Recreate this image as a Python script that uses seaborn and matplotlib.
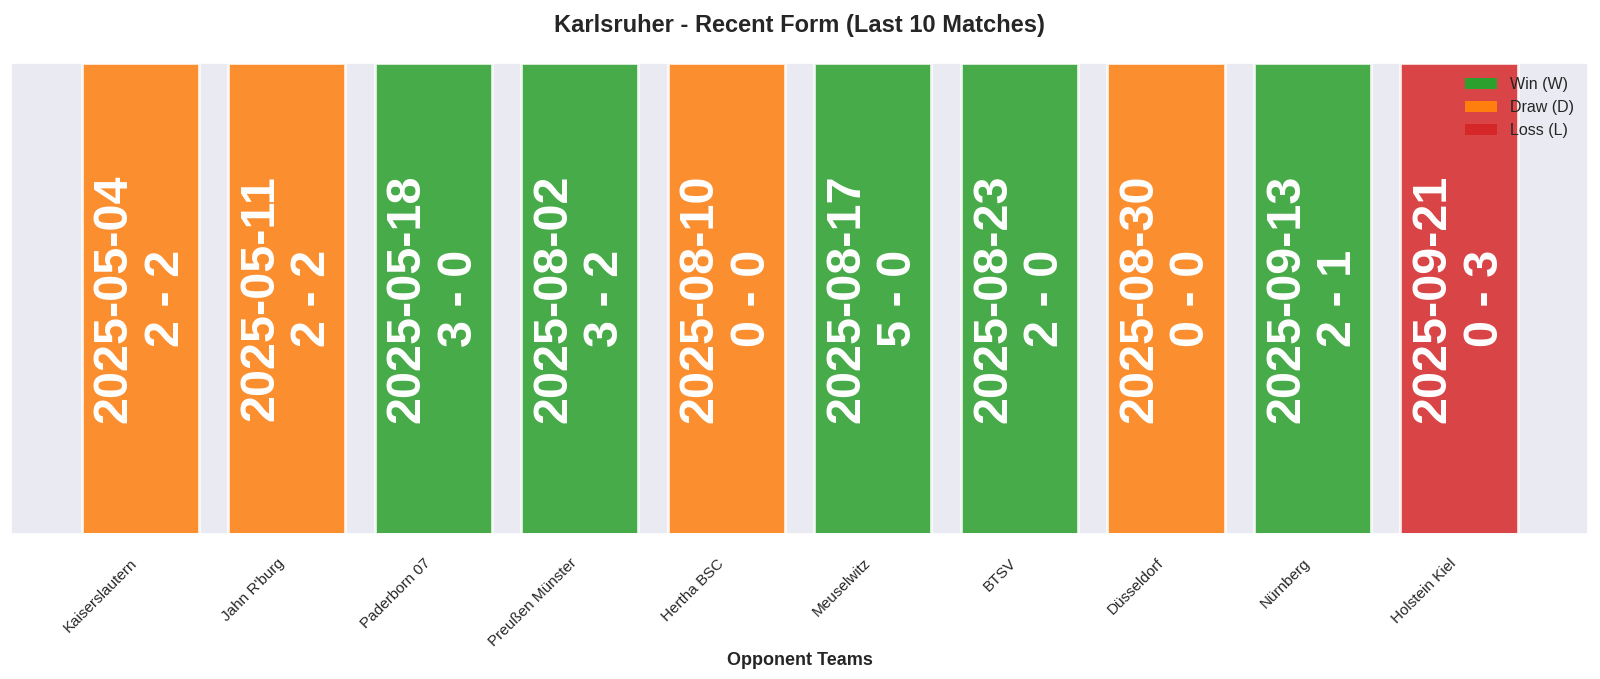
import matplotlib
matplotlib.use("Agg")
import matplotlib.pyplot as plt
from matplotlib.patches import Patch
import seaborn as sns

# match data (oldest first)
teams = ["Kaiserslautern", "Jahn R'burg", "Paderborn 07", "Preußen Münster", "Hertha BSC",
         "Meuselwitz", "BTSV", "Düsseldorf", "Nürnberg", "Holstein Kiel"]
dates = ["2025-05-04", "2025-05-11", "2025-05-18", "2025-08-02", "2025-08-10",
         "2025-08-17", "2025-08-23", "2025-08-30", "2025-09-13", "2025-09-21"]
scores = ["2 - 2", "2 - 2", "3 - 0", "3 - 2", "0 - 0",
          "5 - 0", "2 - 0", "0 - 0", "2 - 1", "0 - 3"]
results = ["D", "D", "W", "W", "D", "W", "W", "D", "W", "L"]
bar_height = [1] * len(teams)

colors = {"W": "#2ca02c", "D": "#ff7f0e", "L": "#d62728"}
labels = {"W": "Win (W)", "D": "Draw (D)", "L": "Loss (L)"}

sns.set_theme(style="darkgrid")
plt.rcParams["font.family"] = ["Liberation Sans", "DejaVu Sans"]

fig = plt.figure(figsize=(16, 6.79), dpi=100)
ax = fig.add_axes([0.007, 0.2135, 0.9855, 0.694])

sns.barplot(x=teams, y=bar_height, hue=results, palette=colors, dodge=False,
            saturation=1, width=0.8, alpha=0.85, edgecolor="white",
            linewidth=2, legend=False, ax=ax)

# annotate each bar with date and score
for i, (d, s) in enumerate(zip(dates, scores)):
    ax.text(i, 0.5, f"{d}\n{s}", rotation=90, ha="center", va="center",
            multialignment="center", color="white", fontsize=35,
            fontweight="bold")

n = len(teams)
ax.set_xlim(-0.4 - 0.049 * (n - 0.2), n - 0.6 + 0.049 * (n - 0.2))
ax.set_ylim(0, 1)
ax.set_yticks([])
ax.set_ylabel("")
ax.set_xticks(range(n))
ax.set_xticklabels(teams, rotation=45, ha="right", fontsize=11)
ax.tick_params(axis="x", pad=10)
ax.set_xlabel("Opponent Teams", fontsize=13, fontweight="bold", labelpad=2)
ax.set_title("Karlsruher - Recent Form (Last 10 Matches)", fontsize=17,
             fontweight="bold", pad=22)

handles = [Patch(facecolor=colors[k], edgecolor="none", label=labels[k])
           for k in ["W", "D", "L"]]
ax.legend(handles=handles, loc="upper right", frameon=False, fontsize=11.5)

fig.savefig("out.png", dpi=100)
